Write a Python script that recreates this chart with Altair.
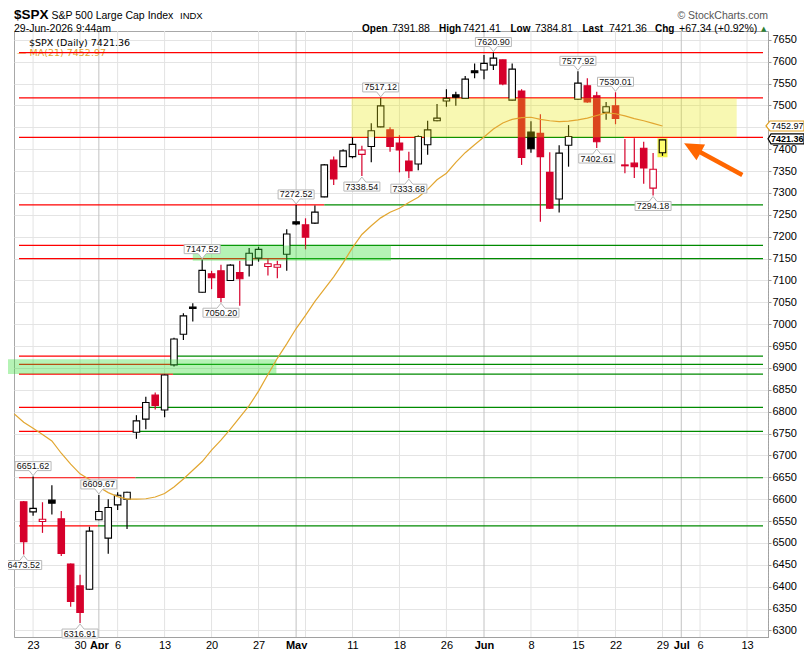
import altair as alt
import pandas as pd

# ---------------------------------------------------------------- data
DATES = ["Mar 20", "Mar 23", "Mar 24", "Mar 25", "Mar 26", "Mar 27", "Mar 30", "Mar 31",
         "Apr 1", "Apr 2", "Apr 6", "Apr 7", "Apr 8", "Apr 9", "Apr 10", "Apr 13", "Apr 14",
         "Apr 15", "Apr 16", "Apr 17", "Apr 20", "Apr 21", "Apr 22", "Apr 23", "Apr 24",
         "Apr 27", "Apr 28", "Apr 29", "Apr 30", "May 1", "May 4", "May 5", "May 6", "May 7",
         "May 8", "May 11", "May 12", "May 13", "May 14", "May 15", "May 18", "May 19",
         "May 20", "May 21", "May 22", "May 26", "May 27", "May 28", "May 29", "Jun 1",
         "Jun 2", "Jun 3", "Jun 4", "Jun 5", "Jun 8", "Jun 9", "Jun 10", "Jun 11", "Jun 12",
         "Jun 15", "Jun 16", "Jun 17", "Jun 18", "Jun 22", "Jun 23", "Jun 24", "Jun 25",
         "Jun 26", "Jun 29"]
FIRST_INDEX = -1          # trading-day index of the first bar (Mar 23 = 0)
PRIOR_CLOSE = 6606.0      # close of the session before the first bar

OPEN = [6594, 6571, 6549, 6598, 6555, 6452, 6402, 6394, 6553, 6511, 6587, 6600, 6753, 6783,
        6838, 6804, 6907, 6977, 7039, 7073, 7115, 7122, 7100, 7118, 7135, 7151, 7132, 7130,
        7160, 7234, 7227, 7231, 7291, 7375, 7360, 7383, 7388, 7406, 7451, 7444, 7414, 7373,
        7366, 7410, 7465, 7510, 7524, 7516, 7579, 7581, 7592, 7604, 7512, 7533, 7439, 7436,
        7347, 7286, 7409, 7514, 7545, 7522, 7484, 7499, 7364, 7368, 7402, 7311, 7391.88]
HIGH = [6596, 6651.62, 6593, 6632, 6573, 6453, 6427, 6537, 6609.67, 6600, 6616, 6617, 6792,
        6834, 6844, 6885, 6969, 7025, 7048, 7147.52, 7122, 7136, 7137, 7145, 7174, 7177, 7151,
        7145, 7217, 7272.52, 7242, 7271, 7366, 7383, 7400, 7427, 7408, 7459, 7517.12, 7450,
        7432, 7394, 7432, 7465, 7503, 7537, 7531, 7567, 7596, 7615, 7620.90, 7605, 7596, 7537,
        7464, 7480, 7393, 7409, 7455, 7577.92, 7562, 7531, 7508, 7530.01, 7423, 7425, 7417,
        7391, 7421.41]
LOW = [6473.52, 6562, 6523, 6565, 6470, 6354, 6316.91, 6393, 6552, 6475, 6575, 6532, 6738,
       6760, 6805, 6787, 6903, 6964, 7006, 7072, 7080, 7050.20, 7099, 7042, 7109, 7143, 7111,
       7105, 7122, 7226, 7171, 7229, 7290, 7318, 7359, 7379, 7338.54, 7370, 7450, 7394, 7347,
       7333.68, 7352, 7387, 7464, 7497, 7499, 7515, 7562, 7560, 7581, 7546, 7511, 7364, 7392,
       7234, 7263, 7255, 7360, 7513, 7506, 7402.61, 7467, 7457, 7345, 7334, 7321, 7294.18,
       7384.81]
CLOSE = [6503, 6579, 6554, 6591, 6476, 6366, 6341, 6527, 6572, 6581, 6609, 6616, 6779, 6821,
         6814, 6884, 6966, 7019, 7036, 7123, 7106, 7061, 7135, 7104, 7162, 7171, 7138, 7136,
         7206, 7229, 7199, 7256, 7364, 7332, 7396, 7411, 7398, 7442, 7499, 7406, 7398, 7351,
         7429, 7444, 7471, 7516, 7519, 7560, 7575, 7596, 7608, 7549, 7583, 7381, 7401, 7383,
         7265, 7391, 7429, 7551, 7508, 7417, 7497, 7470, 7362, 7360, 7357, 7354.02, 7421.36]

MA_FIRST_INDEX = -2
MA21 = [6795, 6776, 6762, 6748, 6733, 6705, 6680, 6658, 6645, 6628, 6615, 6606, 6600, 6600,
        6601, 6605, 6613, 6628, 6646, 6666, 6686, 6712, 6735, 6760, 6787, 6814, 6847, 6885,
        6922, 6955, 6990, 7020, 7052, 7080, 7108, 7140, 7175, 7205, 7225, 7243, 7256, 7265,
        7278, 7290, 7308, 7330, 7345, 7370, 7392, 7410, 7428, 7446, 7460, 7468, 7472, 7473,
        7468, 7465, 7463, 7464, 7467, 7471, 7477, 7483, 7481, 7476, 7470, 7465, 7459, 7452.97]

XTICK_POS = [0, 5, 7, 9, 14, 19, 24, 28, 34, 39, 44, 48, 53, 58, 62, 67, 69, 71, 76]
XTICK_LABELS = ["23", "30", "Apr", "6", "13", "20", "27", "May", "11", "18", "26", "Jun",
                "8", "15", "22", "29", "Jul", "6", "13"]
MONTH_POS = [7, 28, 48, 69]
WEEK_POS = [0, 5, 9, 14, 19, 24, 29, 34, 39, 44, 53, 58, 62, 67, 71, 76]
YTICKS = list(range(6300, 7651, 50))
HIDDEN_YTICK = 7450        # covered by the MA price tag
X_DOMAIN = [-1.5, 77.7]
Y_DOMAIN = [6285, 7670.1]

# drawn support / resistance lines (segments)
LEVEL_VALUE = [7620.90, 7517.12, 7427, 7427, 7427, 7272.52, 7272.52, 7180, 7180, 7150, 7150,
               6927, 6927, 6908, 6908, 6886, 6886, 6810, 6810, 6755, 6755, 6649, 6649, 6539, 6539]
LEVEL_FROM = [-1.5, -1.5, -1.5, 41.9, 62.9, -1.5, 31.0, -1.5, 17.0, -1.5, 27.0, -1.5, 14.9,
              -1.5, 14.9, -1.5, 14.9, -1.5, 11.7, -1.5, 10.7, -1.5, 10.9, -1.5, 6.9]
LEVEL_TO = [77.7, 77.7, 41.9, 62.9, 77.7, 31.0, 77.7, 17.0, 77.7, 27.0, 77.7, 14.9, 77.7,
            14.9, 77.7, 14.9, 77.7, 11.7, 77.7, 10.7, 77.7, 10.9, 77.7, 6.9, 77.7]
LEVEL_KIND = ["red", "red", "red", "green", "red", "red", "green", "red", "green", "red",
              "green", "red", "green", "red", "green", "red", "green", "red", "green", "red",
              "green", "red", "green", "red", "green"]

# highlighted zones
BOX_FROM = [33.9, 17.0, -3.0]
BOX_TO = [74.9, 38.1, 25.9]
BOX_LOW = [7427, 7145, 6886]
BOX_HIGH = [7517.12, 7180, 6920]
BOX_KIND = ["yellow", "green", "green"]

# price call-outs
CALLOUT_IDX = [-1, 0, 5, 7, 18, 20, 28, 35, 37, 40, 49, 58, 60, 62, 66]
CALLOUT_VALUE = [6473.52, 6651.62, 6316.91, 6609.67, 7147.52, 7050.20, 7272.52, 7338.54,
                 7517.12, 7333.68, 7620.90, 7577.92, 7402.61, 7530.01, 7294.18]
CALLOUT_SIDE = ["below", "above", "below", "above", "above", "below", "above", "below",
                "above", "below", "above", "above", "below", "above", "below"]

ARROW_TAIL = (75.5, 7341.0)
ARROW_NECK = (70.4, 7400.4)
ARROW_TIP = (69.3, 7413.5)

MA_LAST = 7452.97
LAST_PRICE = 7421.36

# ---------------------------------------------------------------- styles
RED = "#d6002b"
BLACK = "#000000"
LINE_RED = "#ff0000"
LINE_GREEN = "#008a00"
MA_COLOR = "#e2a630"
PLOT_LEFT, PLOT_TOP = 14, 31      # page position of the plot area
W, H = 754, 606

# ---------------------------------------------------------------- tables
n = len(OPEN)
prev = [PRIOR_CLOSE] + CLOSE[:-1]
rows = []
for k in range(n):
    col = BLACK if CLOSE[k] >= prev[k] else RED
    fill = "#ffffff" if CLOSE[k] >= OPEN[k] else col
    rows.append(dict(i=k + FIRST_INDEX, date=DATES[k], open=OPEN[k], high=HIGH[k],
                     low=LOW[k], close=CLOSE[k], stroke=col, fill=fill))
candles = pd.DataFrame(rows)
candles.loc[n - 1, "fill"] = "#ffff70"
last_candle = candles.iloc[[n - 1]]

ma = pd.DataFrame({"i": [k + MA_FIRST_INDEX for k in range(len(MA21))], "ma": MA21})
vgrid = pd.DataFrame({"i": WEEK_POS + MONTH_POS,
                      "c": ["#e3e3e3"] * len(WEEK_POS) + ["#c2c2c2"] * len(MONTH_POS)})
levels = pd.DataFrame({"v": LEVEL_VALUE, "x0": LEVEL_FROM, "x1": LEVEL_TO,
                       "c": [LINE_RED if k == "red" else LINE_GREEN for k in LEVEL_KIND]})
boxes = pd.DataFrame({"x0": BOX_FROM, "x1": BOX_TO, "lo": BOX_LOW, "hi": BOX_HIGH, "kind": BOX_KIND})
callouts = pd.DataFrame({"i": CALLOUT_IDX, "v": CALLOUT_VALUE, "side": CALLOUT_SIDE,
                         "label": [f"{v:.2f}" for v in CALLOUT_VALUE]})
arrow = pd.DataFrame({"x0": [ARROW_TAIL[0]], "y0": [ARROW_TAIL[1]],
                      "x1": [ARROW_NECK[0]], "y1": [ARROW_NECK[1]],
                      "tx": [ARROW_TIP[0]], "ty": [ARROW_TIP[1]]})
tags = pd.DataFrame({"v": [MA_LAST, LAST_PRICE], "label": [f"{MA_LAST:.2f}", f"{LAST_PRICE:.2f}"]})

# ---------------------------------------------------------------- scales / axes
XS = alt.Scale(domain=X_DOMAIN, nice=False, zero=False)
YS = alt.Scale(domain=Y_DOMAIN, nice=False, zero=False)
lab_arr = "[" + ",".join(f"'{s}'" for s in XTICK_LABELS) + "]"
pos_arr = "[" + ",".join(str(p) for p in XTICK_POS) + "]"
month_arr = "[" + ",".join(str(p) for p in MONTH_POS) + "]"
x_axis = alt.Axis(orient="bottom", values=XTICK_POS, title=None, grid=False, ticks=False,
                  domainColor="#a0a0a0", labelFont="Liberation Sans", labelFontSize=11,
                  labelColor="#000000", labelPadding=2, labelOverlap=False, labelFlush=False,
                  labelExpr=f"{lab_arr}[indexof({pos_arr}, datum.value)]",
                  labelFontWeight={"condition": {"test": f"indexof({month_arr}, datum.value) >= 0",
                                                 "value": "bold"}, "value": "normal"})
y_axis = alt.Axis(orient="right", values=YTICKS, format="d", title=None, grid=True,
                  gridColor="#e4e4e4", gridWidth=1, domainColor="#9a9a9a", domainDash=[1, 2],
                  tickSize=3, tickColor="#9a9a9a", labelFont="Liberation Sans", labelFontSize=11,
                  labelColor="#000000", labelPadding=1, labelOverlap=False, labelFlush=False,
                  labelExpr=f"datum.value == {HIDDEN_YTICK} ? '' : datum.label")


def X(f):
    return alt.X(f, type="quantitative", scale=XS, axis=x_axis)


def Y(f):
    return alt.Y(f, type="quantitative", scale=YS, axis=y_axis)


def txt(text, px, py, size, weight="normal", color="#000000", align="left", font="Liberation Sans"):
    return alt.Chart(alt.Data(values=[{}])).mark_text(
        text=text, font=font, fontSize=size, fontWeight=weight, color=color, align=align,
        baseline="alphabetic").encode(x=alt.value(px - PLOT_LEFT), y=alt.value(py - PLOT_TOP))


# ---------------------------------------------------------------- layers
grid_layer = alt.Chart(vgrid).mark_rule(strokeWidth=1).encode(
    x=X("i"), color=alt.Color("c:N", scale=None))

legend_layers = [
    txt("$SPX (Daily) 7421.36", 29, 45.5, 9.5, font="DejaVu Sans"),
    txt("— MA(21) 7452.97", 17, 55.5, 9.5, color=MA_COLOR, font="DejaVu Sans"),
]

level_layer = alt.Chart(levels).mark_rule(strokeWidth=1.2, clip=True).encode(
    x=X("x0"), x2=alt.X2("x1"), y=Y("v"), color=alt.Color("c:N", scale=None))

glow_layer = alt.Chart(last_candle).mark_bar(size=7, color="#f3f34a", stroke="#f3f34a",
                                             strokeWidth=3).encode(
    x=X("i"), y=Y("low"), y2=alt.Y2("high"))

wick_layer = alt.Chart(candles).mark_rule(strokeWidth=1.2, clip=True).encode(
    x=X("i"), y=Y("low"), y2=alt.Y2("high"), color=alt.Color("stroke:N", scale=None))

body_layer = alt.Chart(candles).mark_bar(size=6.5, strokeWidth=1.1, clip=True).encode(
    x=X("i"), y=Y("open"), y2=alt.Y2("close"),
    fill=alt.Fill("fill:N", scale=None), stroke=alt.Stroke("stroke:N", scale=None))

yellow_box = alt.Chart(boxes[boxes.kind == "yellow"]).mark_rect(
    color="#e8e800", opacity=0.3, clip=True).encode(
    x=X("x0"), x2=alt.X2("x1"), y=Y("lo"), y2=alt.Y2("hi"))
green_box = alt.Chart(boxes[boxes.kind == "green"]).mark_rect(
    color="#33dd33", opacity=0.36, clip=False).encode(
    x=X("x0"), x2=alt.X2("x1"), y=Y("lo"), y2=alt.Y2("hi"))

ma_layer = alt.Chart(ma).mark_line(color=MA_COLOR, strokeWidth=1.2, clip=True).encode(
    x=X("i"), y=Y("ma"))

ABOVE_PATH = "M-18,-15 L18,-15 L18,-6 L4,-6 L0,-1 L-4,-6 L-18,-6 Z"
BELOW_PATH = "M-18,15 L18,15 L18,6 L4,6 L0,1 L-4,6 L-18,6 Z"
call_layers = []
for side, path, dy in [("above", ABOVE_PATH, -10.5), ("below", BELOW_PATH, 10.5)]:
    sub = callouts[callouts.side == side]
    call_layers.append(alt.Chart(sub).mark_point(
        shape=path, size=4, filled=True, fill="#ffffff", stroke="#b8b8b8", strokeWidth=1,
        opacity=1).encode(x=X("i"), y=Y("v")))
    call_layers.append(alt.Chart(sub).mark_text(
        font="Liberation Sans", fontSize=9, color="#111111", dy=dy, baseline="middle").encode(
        x=X("i"), y=Y("v"), text="label:N"))

TAG_PATH_MA = "M0,0 L4,-5 L38,-5 L38,5 L4,5 Z"
TAG_PATH_LAST = "M0,-1 L3,-6 L36,-6 L36,4 L3,4 Z"
tag_layers = [
    alt.Chart(tags.iloc[[0]]).mark_point(shape=TAG_PATH_MA, size=4, filled=True, fill="#ffffff",
                                         stroke="#e0a020", strokeWidth=1.2, opacity=1).encode(
        x=alt.value(752), y=Y("v")),
    alt.Chart(tags.iloc[[0]]).mark_text(font="Liberation Sans", fontSize=9, align="left",
                                        baseline="middle", color="#000000").encode(
        x=alt.value(757), y=Y("v"), text="label:N"),
    alt.Chart(tags.iloc[[1]]).mark_point(shape=TAG_PATH_LAST, size=4, filled=True, fill="#ffffff",
                                         stroke="#000000", strokeWidth=1.2, opacity=1).encode(
        x=alt.value(754), y=Y("v")),
    alt.Chart(tags.iloc[[1]]).mark_text(font="Liberation Sans", fontSize=9, fontWeight="bold",
                                        align="left", baseline="middle", dy=-1,
                                        color="#000000").encode(
        x=alt.value(757), y=Y("v"), text="label:N"),
]

HEAD_PATH = "M0,0 L12.4,17 L21,1.15 Z"
arrow_layers = [
    alt.Chart(arrow).mark_rule(strokeWidth=4.5, color="#ff6600", strokeCap="butt").encode(
        x=X("x0"), y=Y("y0"), x2=alt.X2("x1"), y2=alt.Y2("y1")),
    alt.Chart(arrow).mark_point(shape=HEAD_PATH, size=4, filled=True, color="#ff6600",
                                opacity=1).encode(x=X("tx"), y=Y("ty")),
]

header_layers = [
    txt("$SPX", 14, 19, 13.5, weight="bold"),
    txt("S&P 500 Large Cap Index", 51.5, 19, 10.5),
    txt("INDX", 180, 19, 9.5),
    txt("29-Jun-2026 9:44am", 14, 32, 10.5),
    txt("© StockCharts.com", 768, 19, 10.5, color="#555555", align="right"),
    txt("Open", 362, 31.5, 10, weight="bold"),
    txt("7391.88", 392, 31.5, 10.5),
    txt("High", 439, 31.5, 10, weight="bold"),
    txt("7421.41", 463, 31.5, 10.5),
    txt("Low", 510.5, 31.5, 10, weight="bold"),
    txt("7384.81", 535, 31.5, 10.5),
    txt("Last", 582.5, 31.5, 10, weight="bold"),
    txt("7421.36", 609, 31.5, 10.5),
    txt("Chg", 655, 31.5, 10, weight="bold"),
    txt("+67.34 (+0.92%)", 679, 31.5, 10.5),
    txt("▲", 761, 30.5, 7, color="#2e7d32", font="DejaVu Sans"),
]

chart = alt.layer(
    grid_layer, *legend_layers, level_layer, glow_layer, wick_layer, body_layer,
    yellow_box, green_box, ma_layer, *call_layers, *tag_layers, *arrow_layers, *header_layers
).properties(
    width=W, height=H, background="#ffffff",
    autosize=alt.AutoSizeParams(type="none"),
    padding={"left": 6, "top": 23, "right": 36, "bottom": 12},
).configure_view(stroke="#a8a8a8", strokeWidth=1)

chart.save("out.html", embed_options={"renderer": "svg", "actions": False})
